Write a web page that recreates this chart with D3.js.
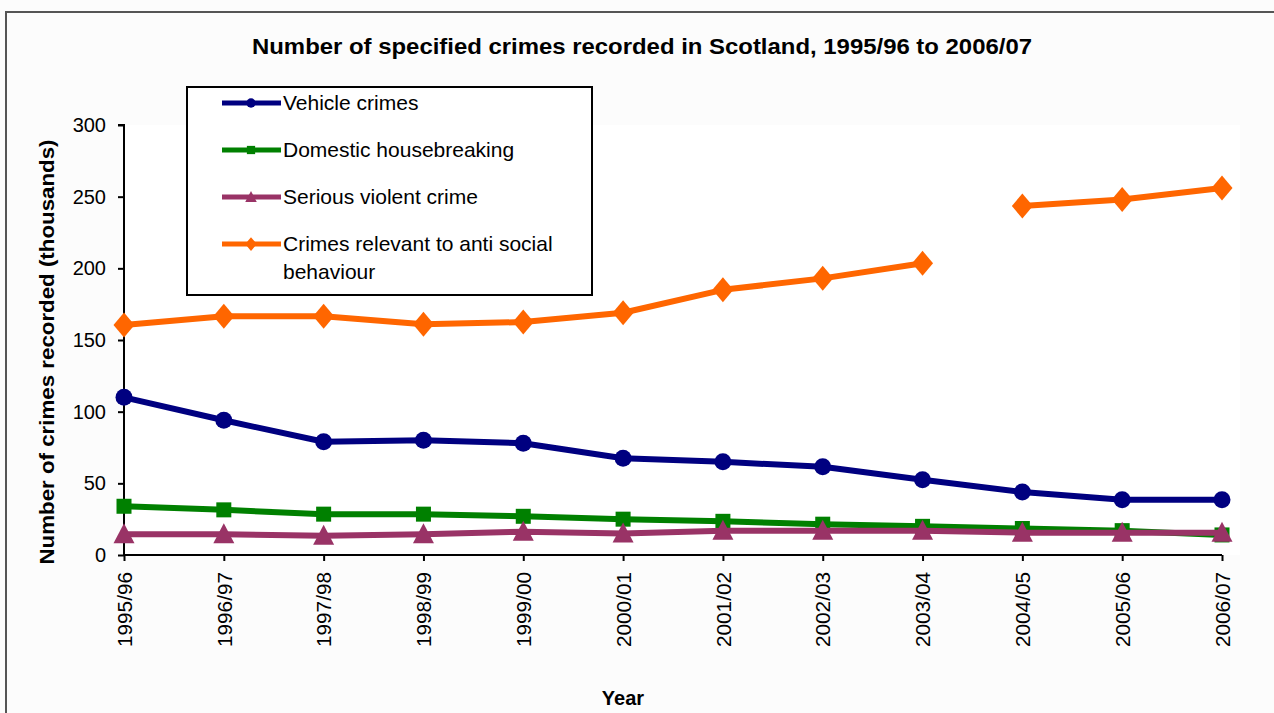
<!DOCTYPE html>
<html>
<head>
<meta charset="utf-8">
<script src="https://cdn.jsdelivr.net/npm/d3@7"></script>
<style>
  html, body { margin: 0; padding: 0; background: #fcfcfc; }
  svg { display: block; font-family: "Liberation Sans", Arial, sans-serif; }
</style>
</head>
<body>
<svg id="chart" width="1274" height="713"></svg>
<script>
// ---- data ----
const categories = ["1995/96","1996/97","1997/98","1998/99","1999/00","2000/01","2001/02","2002/03","2003/04","2004/05","2005/06","2006/07"];
const vehicleCrimes      = [110, 94, 79, 80, 78, 67.5, 65, 61.5, 52.5, 44, 38.5, 38.5];
const domesticHousebreak = [34, 31.5, 28.5, 28.5, 27, 25, 23.5, 21.5, 20, 18.5, 17, 14];
const seriousViolent     = [14.5, 14.5, 13.5, 14.5, 16.3, 15, 17, 17, 17, 15.6, 15.6, 15.6];
const antiSocial         = [160.5, 166.5, 166.5, 161, 162.5, 169, 185, 193, 203.5, 243.5, 248, 256];
const antiSocialBreakBefore = "2004/05"; // line is not joined across this point
const yTicks = [0, 50, 100, 150, 200, 250, 300];
const seriesNames = ["Vehicle crimes", "Domestic housebreaking", "Serious violent crime", "Crimes relevant to anti social behaviour"];

const series = [
  { name: seriesNames[0], values: vehicleCrimes, color: "#000080", marker: "circle" },
  { name: seriesNames[1], values: domesticHousebreak, color: "#008000", marker: "square" },
  { name: seriesNames[2], values: seriousViolent, color: "#993366", marker: "triangle" },
  { name: seriesNames[3], values: antiSocial, color: "#FF6600", marker: "diamond", breakBefore: antiSocialBreakBefore }
];

// ---- layout ----
const svg = d3.select("#chart");
const plot = { left: 124, right: 1222, top: 125, bottom: 555 };

// outer frame
svg.append("rect").attr("x", 6).attr("y", 12).attr("width", 1300).attr("height", 750)
  .attr("fill", "#fcfcfc").attr("stroke", "#555").attr("stroke-width", 2);
svg.append("rect").attr("x", plot.left).attr("y", plot.top)
  .attr("width", 1240 - plot.left).attr("height", plot.bottom - plot.top).attr("fill", "#ffffff");

const x = d3.scalePoint().domain(categories).range([plot.left, plot.right]);
const y = d3.scaleLinear().domain([0, 300]).range([plot.bottom, plot.top]);

// title
svg.append("text").attr("x", 642).attr("y", 54).attr("text-anchor", "middle")
  .attr("font-weight", "bold").attr("font-size", 22)
  .attr("textLength", 780).attr("lengthAdjust", "spacingAndGlyphs")
  .text("Number of specified crimes recorded in Scotland, 1995/96 to 2006/07");

// y axis
const yAxis = d3.axisLeft(y).tickValues(yTicks).tickSize(6).tickPadding(12).tickFormat(d3.format("d"));
const gy = svg.append("g").attr("transform", `translate(${plot.left},0)`).call(yAxis);
gy.select(".domain").attr("stroke", "#000").attr("stroke-width", 2).attr("d", `M-6,${plot.top}H0V${plot.bottom}`);
gy.selectAll(".tick line").attr("stroke", "#000").attr("stroke-width", 2);
gy.selectAll(".tick text").attr("font-size", 20).attr("fill", "#000")
  .attr("font-family", "Liberation Sans, Arial, sans-serif");

// x axis
const xAxis = d3.axisBottom(x).tickSize(6).tickPadding(0);
const gx = svg.append("g").attr("transform", `translate(0,${plot.bottom})`).call(xAxis);
gx.select(".domain").attr("stroke", "#000").attr("stroke-width", 2).attr("d", `M${plot.left},0H${plot.right}`);
gx.selectAll(".tick line").attr("stroke", "#000").attr("stroke-width", 2);
gx.selectAll(".tick text").attr("font-size", 20).attr("fill", "#000")
  .attr("font-family", "Liberation Sans, Arial, sans-serif")
  .attr("text-anchor", "end").attr("transform", "rotate(-90)")
  .attr("x", -17).attr("y", 0).attr("dy", "0.36em")
  .attr("textLength", 75).attr("lengthAdjust", "spacingAndGlyphs");

// axis titles
svg.append("text").attr("transform", "translate(54,352) rotate(-90)").attr("text-anchor", "middle")
  .attr("font-weight", "bold").attr("font-size", 20)
  .attr("textLength", 425).attr("lengthAdjust", "spacingAndGlyphs")
  .text("Number of crimes recorded (thousands)");
svg.append("text").attr("x", 623).attr("y", 705).attr("text-anchor", "middle")
  .attr("font-weight", "bold").attr("font-size", 20).text("Year");

// markers
function drawMarker(g, type, cx, cy, color, s) {
  if (type === "circle") {
    g.append("circle").attr("cx", cx).attr("cy", cy).attr("r", 8.5 * s).attr("fill", color);
  } else if (type === "square") {
    const h = 7.5 * s;
    g.append("rect").attr("x", cx - h).attr("y", cy - h).attr("width", 2 * h).attr("height", 2 * h).attr("fill", color);
  } else if (type === "triangle") {
    const w = 10.5 * s, up = 11 * s, dn = 9 * s;
    g.append("path").attr("d", `M${cx},${cy - up}L${cx + w},${cy + dn}L${cx - w},${cy + dn}Z`).attr("fill", color);
  } else if (type === "diamond") {
    const w = 10.5 * s, h = 12.5 * s;
    g.append("path").attr("d", `M${cx},${cy - h}L${cx + w},${cy}L${cx},${cy + h}L${cx - w},${cy}Z`).attr("fill", color);
  }
}

const line = d3.line().x(d => x(d.cat)).y(d => y(d.v));

series.forEach(s => {
  const pts = categories.map((c, i) => ({ cat: c, v: s.values[i] }));
  let segments = [pts];
  if (s.breakBefore) {
    const bi = categories.indexOf(s.breakBefore);
    segments = [pts.slice(0, bi), pts.slice(bi)];
  }
  const g = svg.append("g");
  segments.forEach(seg => {
    g.append("path").attr("d", line(seg)).attr("fill", "none")
      .attr("stroke", s.color).attr("stroke-width", 6).attr("stroke-linejoin", "round");
  });
  pts.forEach(p => drawMarker(g, s.marker, x(p.cat), y(p.v), s.color, 1));
});

// legend
const lg = svg.append("g");
lg.append("rect").attr("x", 187).attr("y", 87).attr("width", 405).attr("height", 208)
  .attr("fill", "#fff").attr("stroke", "#000").attr("stroke-width", 2);
const legendY = [103, 150, 197, 244];
series.forEach((s, i) => {
  const ly = legendY[i];
  lg.append("line").attr("x1", 222).attr("x2", 281).attr("y1", ly).attr("y2", ly)
    .attr("stroke", s.color).attr("stroke-width", 5);
  drawMarker(lg, s.marker, 251, ly, s.color, 0.55);
});
const legendLines = [["Vehicle crimes"], ["Domestic housebreaking"], ["Serious violent crime"], ["Crimes relevant to anti social", "behaviour"]];
legendLines.forEach((lines, i) => {
  lines.forEach((t, j) => {
    lg.append("text").attr("x", 283).attr("y", legendY[i] + 7 + j * 28)
      .attr("font-size", 21).attr("fill", "#000").text(t);
  });
});
</script>
</body>
</html>
